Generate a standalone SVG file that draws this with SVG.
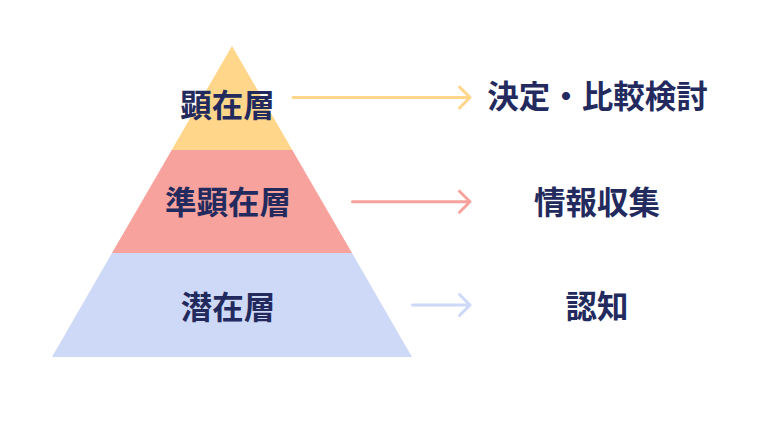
<svg xmlns="http://www.w3.org/2000/svg" width="760" height="432" viewBox="0 0 760 432">
<style>
text{font-family:"Noto Sans CJK JP","Noto Sans CJK SC",sans-serif;font-weight:700;font-size:31.5px;fill:#232a5e;text-anchor:middle}
.c{fill:none;stroke-width:3;stroke-linecap:round;stroke-linejoin:round}
</style>
<rect width="760" height="432" fill="#ffffff"/>
<g id="layer-top">
<polygon points="232,46 292.3,150 171.7,150" fill="#FFD68A"/>
<text x="227.5" y="117">顕在層</text>
</g>
<g id="layer-middle">
<polygon points="171.7,150 292.3,150 352,253 112,253" fill="#F7A29C"/>
<text x="228" y="213.5">準顕在層</text>
</g>
<g id="layer-bottom">
<polygon points="112,253 352,253 412,357 52,357" fill="#CED8F7"/>
<text x="228" y="318.5">潜在層</text>
</g>
<g id="connectors">
<path class="c" stroke="#FFD68A" d="M293,97.5H469M459.5,87L470,97.5L459.5,108"/>
<path class="c" stroke="#F7A29C" d="M352.5,201.7H469M459.5,191.2L470,201.7L459.5,212.2"/>
<path class="c" stroke="#CED8F7" d="M412.5,305H469M459.5,294.5L470,305L459.5,315.5"/>
</g>
<g id="label-top"><text x="597.5" y="108">決定・比較検討</text></g>
<g id="label-middle"><text x="597" y="213.5">情報収集</text></g>
<g id="label-bottom"><text x="597" y="318">認知</text></g>
</svg>
